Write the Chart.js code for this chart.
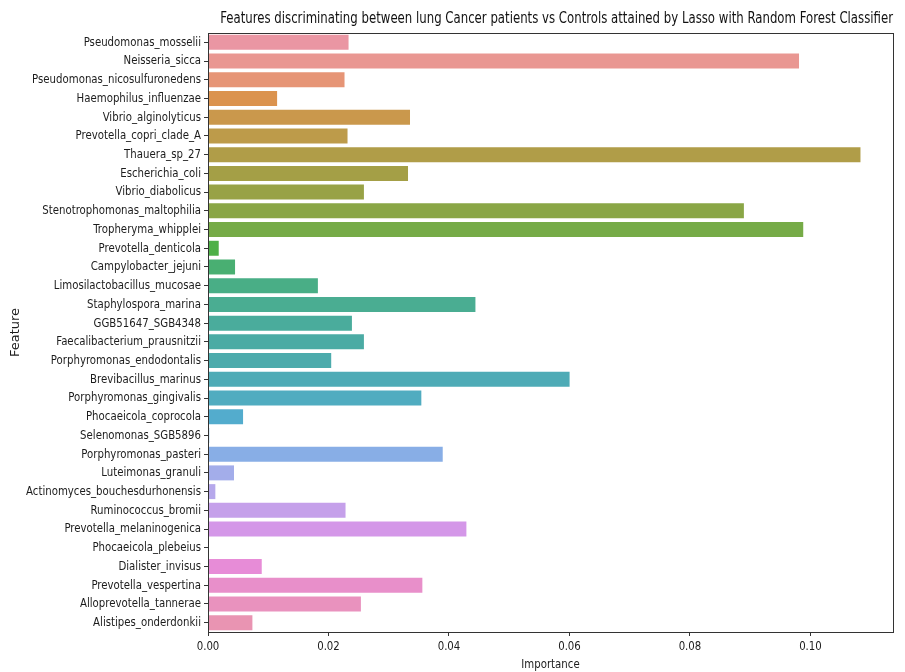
<!DOCTYPE html>
<html>
<head>
<meta charset="utf-8">
<script src="https://cdn.jsdelivr.net/npm/chart.js@4.4.1/dist/chart.umd.min.js"></script>
<style>
  html, body { margin: 0; padding: 0; background: #ffffff; }
  #wrap { width: 905px; height: 672px; }
</style>
</head>
<body>
<div id="wrap"><canvas id="chart" width="905" height="672"></canvas></div>
<script>
// Feature importances from the Lasso + Random Forest model
const features = [
  'Pseudomonas_mosselii', 'Neisseria_sicca', 'Pseudomonas_nicosulfuronedens',
  'Haemophilus_influenzae', 'Vibrio_alginolyticus', 'Prevotella_copri_clade_A',
  'Thauera_sp_27', 'Escherichia_coli', 'Vibrio_diabolicus',
  'Stenotrophomonas_maltophilia', 'Tropheryma_whipplei', 'Prevotella_denticola',
  'Campylobacter_jejuni', 'Limosilactobacillus_mucosae', 'Staphylospora_marina',
  'GGB51647_SGB4348', 'Faecalibacterium_prausnitzii', 'Porphyromonas_endodontalis',
  'Brevibacillus_marinus', 'Porphyromonas_gingivalis', 'Phocaeicola_coprocola',
  'Selenomonas_SGB5896', 'Porphyromonas_pasteri', 'Luteimonas_granuli',
  'Actinomyces_bouchesdurhonensis', 'Ruminococcus_bromii', 'Prevotella_melaninogenica',
  'Phocaeicola_plebeius', 'Dialister_invisus', 'Prevotella_vespertina',
  'Alloprevotella_tannerae', 'Alistipes_onderdonkii'
];
const importance = [
  0.02333, 0.09810, 0.02266,
  0.01147, 0.03353, 0.02316,
  0.10830, 0.03320, 0.02588,
  0.08895, 0.09880, 0.00178,
  0.00449, 0.01824, 0.04439,
  0.02389, 0.02588, 0.02045,
  0.06002, 0.03541, 0.00582,
  0.00020, 0.03896, 0.00432,
  0.00122, 0.02283, 0.04289,
  0.00000, 0.00892, 0.03558,
  0.02538, 0.00737
];
const xTicks = [0.00, 0.02, 0.04, 0.06, 0.08, 0.10];
const xMax = 0.1137;

// --- HUSL palette (same math as seaborn's husl_palette) ---
const M = [[3.2406, -1.5372, -0.4986], [-0.9689, 1.8758, 0.0415], [0.0557, -0.2040, 1.0570]];
const refU = 0.19784, refV = 0.46834, labE = 0.008856, labK = 903.3;
function maxChroma(L, H) {
  const hr = H / 360 * 2 * Math.PI, sinH = Math.sin(hr), cosH = Math.cos(hr);
  const sub1 = Math.pow(L + 16, 3) / 1560896;
  const sub2 = sub1 > labE ? sub1 : L / labK;
  let result = Infinity;
  for (const [m1, m2, m3] of M) {
    const top = (0.99915 * m1 + 1.05122 * m2 + 1.14460 * m3) * sub2;
    const rb = 0.86330 * m3 - 0.17266 * m2;
    const lb = 0.12949 * m3 - 0.38848 * m1;
    const bottom = (rb * sinH + lb * cosH) * sub2;
    for (const t of [0, 1]) {
      const C = L * (top - 1.05122 * t) / (bottom + 0.17266 * sinH * t);
      if (C > 0 && C < result) result = C;
    }
  }
  return result;
}
function fInv(t) { return Math.pow(t, 3) > labE ? Math.pow(t, 3) : (116 * t - 16) / labK; }
function fromLinear(c) { return c <= 0.0031308 ? 12.92 * c : 1.055 * Math.pow(c, 1 / 2.4) - 0.055; }
function huslToRgb(H, S, L) {
  const C = maxChroma(L, H) / 100 * S;
  const hr = H / 360 * 2 * Math.PI;
  const U = Math.cos(hr) * C, V = Math.sin(hr) * C;
  const varY = fInv((L + 16) / 116);
  const varU = U / (13 * L) + refU, varV = V / (13 * L) + refV;
  const Y = varY;
  const X = 0 - (9 * Y * varU) / ((varU - 4) * varV - varU * varV);
  const Z = (9 * Y - 15 * varV * Y - varV * X) / (3 * varV);
  return M.map(r => Math.min(1, Math.max(0, fromLinear(r[0] * X + r[1] * Y + r[2] * Z))));
}
function desaturate([r, g, b], prop) {
  // rgb -> hls, scale saturation, back to rgb
  const mx = Math.max(r, g, b), mn = Math.min(r, g, b), l = (mx + mn) / 2;
  let h = 0, s = 0;
  if (mx !== mn) {
    const d = mx - mn;
    s = l <= 0.5 ? d / (mx + mn) : d / (2 - mx - mn);
    const rc = (mx - r) / d, gc = (mx - g) / d, bc = (mx - b) / d;
    if (r === mx) h = bc - gc; else if (g === mx) h = 2 + rc - bc; else h = 4 + gc - rc;
    h = ((h / 6) % 1 + 1) % 1;
  }
  s *= prop;
  if (s === 0) return [l, l, l];
  const m2 = l <= 0.5 ? l * (1 + s) : l + s - l * s, m1 = 2 * l - m2;
  const v = (hh) => {
    hh = ((hh % 1) + 1) % 1;
    if (hh < 1 / 6) return m1 + (m2 - m1) * hh * 6;
    if (hh < 0.5) return m2;
    if (hh < 2 / 3) return m1 + (m2 - m1) * (2 / 3 - hh) * 6;
    return m1;
  };
  return [v(h + 1 / 3), v(h), v(h - 1 / 3)];
}
function huslPalette(n, h = 0.01, s = 0.9, l = 0.7) {
  const out = [];
  for (let i = 0; i < n; i++) {
    const hue = ((i / n + h) % 1) * 359;
    const rgb = desaturate(huslToRgb(hue, s * 99, l * 99), 0.75);
    out.push('rgb(' + rgb.map(c => Math.round(c * 255)).join(',') + ')');
  }
  return out;
}
const barColors = huslPalette(features.length);

// Condensed lettering: squeeze horizontal text along its baseline
const canvas = document.getElementById('chart');
const ctx2d = canvas.getContext('2d');
const TEXT_SQUEEZE = 0.87;
const rawFillText = ctx2d.fillText.bind(ctx2d);
ctx2d.fillText = function (text, x, y, maxWidth) {
  const t = ctx2d.getTransform();
  if (Math.abs(t.b) > 1e-6 || Math.abs(t.c) > 1e-6) {
    return maxWidth === undefined ? rawFillText(text, x, y) : rawFillText(text, x, y, maxWidth);
  }
  ctx2d.save();
  ctx2d.translate(x, y);
  ctx2d.scale(TEXT_SQUEEZE, 1);
  rawFillText(text, 0, 0);
  ctx2d.restore();
};

// Matplotlib-style closed frame around the plotting area
const framePlugin = {
  id: 'frame',
  afterDatasetsDraw(chart) {
    const { ctx, chartArea: a } = chart;
    ctx.save();
    ctx.strokeStyle = '#333333';
    ctx.lineWidth = 1;
    ctx.strokeRect(Math.round(a.left) + 0.5, Math.round(a.top) + 0.5,
      Math.round(a.right - a.left), Math.round(a.bottom - a.top));
    ctx.restore();
  }
};

const FONT = '"DejaVu Sans Condensed", "DejaVu Sans", sans-serif';
const TEXT_COLOR = '#1c1c1c';
Chart.defaults.font.family = FONT;
Chart.defaults.color = TEXT_COLOR;

new Chart(canvas, {
  type: 'bar',
  data: {
    labels: features,
    datasets: [{
      data: importance,
      backgroundColor: barColors,
      borderWidth: 0,
      categoryPercentage: 1.0,
      barPercentage: 0.8
    }]
  },
  options: {
    indexAxis: 'y',
    responsive: false,
    animation: false,
    layout: { padding: { left: 0, right: 12, top: 0, bottom: 0 } },
    plugins: {
      legend: { display: false },
      tooltip: { enabled: false },
      title: {
        display: true,
        text: 'Features discriminating between lung Cancer patients vs Controls attained by Lasso with Random Forest Classifier',
        align: 'end',
        color: '#111111',
        font: { size: 15, weight: 'normal', family: FONT },
        padding: { top: 10, bottom: 5 }
      }
    },
    scales: {
      x: {
        type: 'linear',
        min: 0,
        max: xMax,
        afterBuildTicks(scale) { scale.ticks = xTicks.map(v => ({ value: v })); },
        afterFit(scale) { scale.height = 40; },
        ticks: {
          includeBounds: false,
          padding: 3,
          font: { size: 13 },
          color: TEXT_COLOR,
          callback: v => Number(v).toFixed(2)
        },
        grid: { drawOnChartArea: false, drawTicks: true, tickLength: 4, color: '#333333' },
        border: { display: true, color: '#333333' },
        title: {
          display: true,
          text: 'Importance',
          font: { size: 13 },
          color: TEXT_COLOR,
          padding: { top: 0, bottom: 0 }
        }
      },
      y: {
        type: 'category',
        afterFit(scale) { scale.width = 208; },
        ticks: {
          autoSkip: false,
          padding: 3,
          font: { size: 13 },
          color: TEXT_COLOR
        },
        grid: { drawOnChartArea: false, drawTicks: true, tickLength: 4, color: '#333333', offset: false },
        border: { display: true, color: '#333333' },
        title: {
          display: true,
          text: 'Feature',
          font: { size: 13, family: '"DejaVu Sans", sans-serif' },
          color: TEXT_COLOR,
          padding: { top: 8 }
        }
      }
    }
  },
  plugins: [framePlugin]
});
</script>
</body>
</html>
